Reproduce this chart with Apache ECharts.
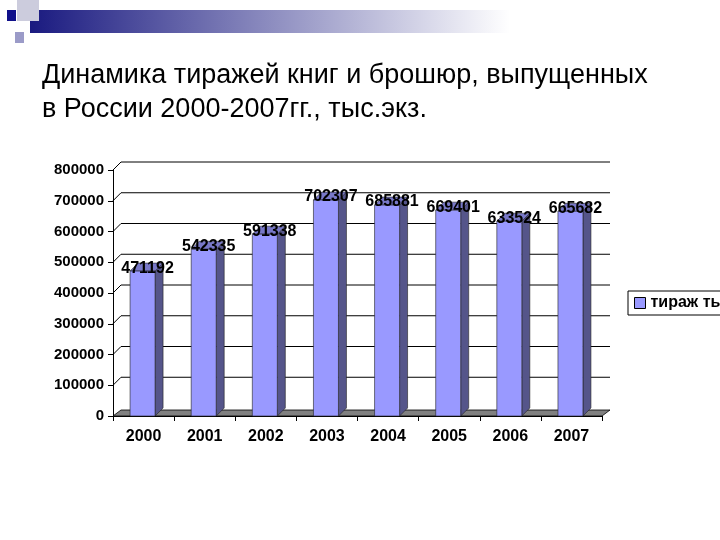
<!DOCTYPE html>
<html>
<head>
<meta charset="utf-8">
<script src="https://cdn.jsdelivr.net/npm/echarts@6/dist/echarts.min.js"></script>
<style>html,body{margin:0;padding:0;background:#fff}#c{width:720px;height:540px}</style>
</head>
<body>
<div id="c"></div>
<script>
const years = ['2000', '2001', '2002', '2003', '2004', '2005', '2006', '2007'];
const copies = [471192, 542335, 591338, 702307, 685881, 669401, 633524, 665682];
const ticks = [100000, 200000, 300000, 400000, 500000, 600000, 700000, 800000];

const D = 8; // 3d depth
const chart = echarts.init(document.getElementById('c'));

function wallLine(params, api) {
    const p = api.coord([0, api.value(0)]);
    const cs = params.coordSys;
    const x0 = cs.x, x1 = cs.x + cs.width;
    return {
        type: 'polyline',
        shape: { points: [[x0, p[1]], [x0 + D, p[1] - D], [x1 + D, p[1] - D]] },
        style: { stroke: '#000', lineWidth: 1, fill: null }
    };
}

function bar3d(params, api) {
    const c = api.coord([api.value(0), api.value(1)]);
    const base = api.coord([api.value(0), 0]);
    const w = 25;
    const x = c[0] - w / 2 - 1, y = c[1];
    const b = base[1];
    return {
        type: 'group',
        children: [
            { type: 'polygon', shape: { points: [[x + w, y], [x + w + D, y - D], [x + w + D, b - D], [x + w, b]] },
              style: { fill: '#55558a', stroke: '#222', lineWidth: 0.6 } },
            { type: 'polygon', shape: { points: [[x, y], [x + D, y - D], [x + w + D, y - D], [x + w, y]] },
              style: { fill: '#7878c8', stroke: '#222', lineWidth: 0.6 } },
            { type: 'rect', shape: { x: x, y: y, width: w, height: b - y },
              style: { fill: '#9999ff', stroke: '#222', lineWidth: 0.6 } },
            { type: 'text', x: x + w / 2 + 5, y: y + 5,
              style: { text: String(api.value(1)), font: 'bold 16px Arial', fill: '#000', align: 'center', verticalAlign: 'bottom' } }
        ]
    };
}

function floor(params, api) {
    const cs = params.coordSys;
    const x0 = cs.x, x1 = cs.x + cs.width, b = cs.y + cs.height;
    return {
        type: 'polygon',
        shape: { points: [[x0, b], [x0 + D, b - D + 2], [x1 + D, b - D + 2], [x1, b]] },
        style: { fill: '#808080', stroke: '#000', lineWidth: 0.8 }
    };
}

chart.setOption({
    animation: false,
    graphic: [
        { type: 'rect', shape: { x: 30, y: 10, width: 480, height: 23 },
          style: { fill: new echarts.graphic.LinearGradient(0, 0, 1, 0, [{ offset: 0, color: '#1a1a80' }, { offset: 1, color: '#ffffff' }]) } },
        { type: 'rect', shape: { x: 17, y: 0, width: 22, height: 21 }, style: { fill: '#ccccdd' } },
        { type: 'rect', shape: { x: 7, y: 10, width: 9, height: 11 }, style: { fill: '#10108a' } },
        { type: 'rect', shape: { x: 15, y: 32, width: 9, height: 11 }, style: { fill: '#9b9bc8' } },
        { type: 'text', left: 42, top: 59,
          style: { text: 'Динамика тиражей книг и брошюр, выпущенных\nв России 2000-2007гг., тыс.экз.',
                   font: '27px Arial', fill: '#000', lineHeight: 34 } }
    ],
    legend: {
        left: 628, top: 291, orient: 'vertical',
        borderColor: '#000', borderWidth: 1, padding: [4, 6],
        itemWidth: 11, itemHeight: 11, icon: 'rect',
        textStyle: { fontFamily: 'Arial', fontWeight: 'bold', fontSize: 16, color: '#000' },
        data: [{ name: 'тираж тыс.экз.', itemStyle: { color: '#9999ff', borderColor: '#000', borderWidth: 1 } }]
    },
    grid: { left: 113, right: 118, top: 170, bottom: 124 },
    xAxis: {
        type: 'category', data: years,
        axisLine: { lineStyle: { color: '#000' } },
        axisTick: { show: true, lineStyle: { color: '#000' }, length: 5 },
        axisLabel: { fontFamily: 'Arial', fontWeight: 'bold', fontSize: 16, color: '#000', margin: 13 }
    },
    yAxis: {
        type: 'value', min: 0, max: 800000, interval: 100000,
        axisLine: { show: true, lineStyle: { color: '#000' } },
        axisTick: { show: true, lineStyle: { color: '#000' }, length: 5 },
        splitLine: { show: false },
        axisLabel: { fontFamily: 'Arial', fontWeight: 'bold', fontSize: 15, color: '#000', margin: 9,
                     formatter: v => String(v) }
    },
    series: [
        { type: 'custom', renderItem: floor, data: [[0]], silent: true, z: 1 },
        { type: 'custom', renderItem: wallLine, data: ticks.map(t => [t]), encode: { y: 0 }, silent: true, z: 1 },
        { type: 'custom', name: 'тираж тыс.экз.', renderItem: bar3d,
          data: copies.map((v, i) => [i, v]), encode: { x: 0, y: 1 }, z: 3,
          itemStyle: { color: '#9999ff' } }
    ]
});
</script>
</body>
</html>
